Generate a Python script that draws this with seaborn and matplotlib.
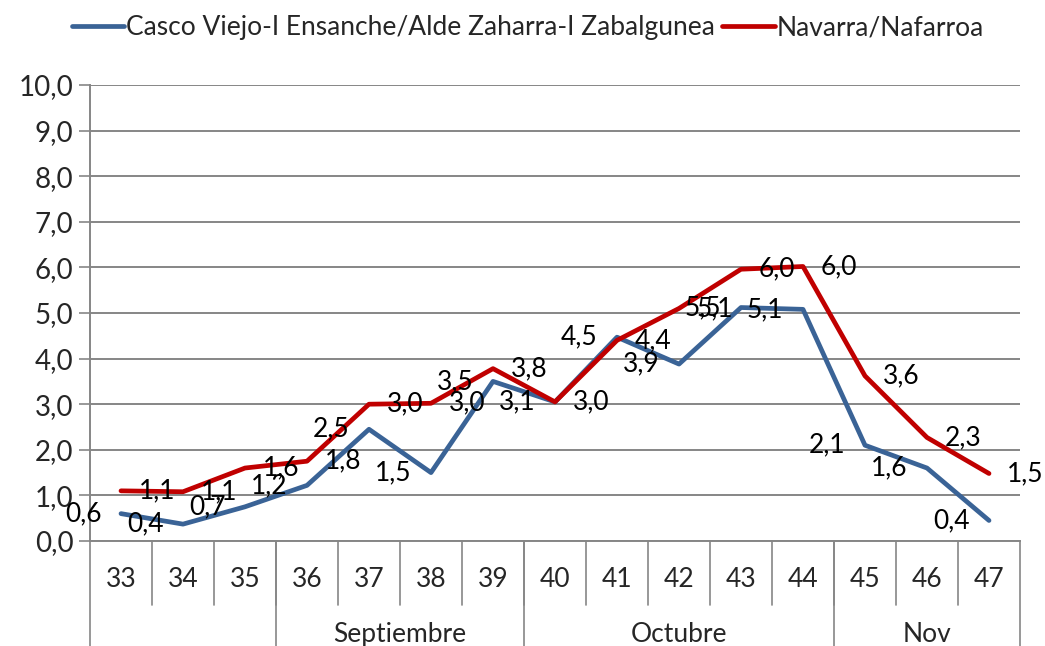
import matplotlib
matplotlib.use("Agg")
import matplotlib.pyplot as plt
import pandas as pd
import seaborn as sns

# Data
weeks = ["33", "34", "35", "36", "37", "38", "39", "40",
         "41", "42", "43", "44", "45", "46", "47"]
months = ["", "Septiembre", "Octubre", "Nov"]
month_sizes = [3, 4, 5, 3]

casco_name = "Casco Viejo-I Ensanche/Alde Zaharra-I Zabalgunea"
navarra_name = "Navarra/Nafarroa"
casco = [0.6, 0.37, 0.75, 1.22, 2.45, 1.5, 3.5, 3.05,
         4.47, 3.88, 5.12, 5.08, 2.1, 1.6, 0.45]
navarra = [1.1, 1.08, 1.6, 1.75, 3.0, 3.02, 3.78, 3.05,
           4.4, 5.1, 5.96, 6.02, 3.62, 2.27, 1.48]
casco_labels = ["0,6", "0,4", "0,7", "1,2", "2,5", "1,5", "3,5", "3,1",
                "4,5", "3,9", "5,5", "5,1", "2,1", "1,6", "0,4"]
navarra_labels = ["1,1", "1,1", "1,6", "1,8", "3,0", "3,0", "3,8", "3,0",
                  "4,4", "5,1", "6,0", "6,0", "3,6", "2,3", "1,5"]

BLUE = "#3A6396"
RED = "#C00000"
GRID = "#868686"
FONT = 19


def main() -> None:
    """Build the chart and save it"""
    sns.set_theme(style="white")
    plt.rcParams["font.family"] = ["Lato", "DejaVu Sans"]

    idx = list(range(len(weeks)))
    df = pd.DataFrame({
        "x": idx + idx,
        "value": casco + navarra,
        "serie": [casco_name] * len(weeks) + [navarra_name] * len(weeks),
    })

    fig = plt.figure(figsize=(10.45, 6.46), dpi=100)
    ax = fig.add_axes([90 / 1045, 1 - 541 / 646, 930 / 1045, 456 / 646])

    sns.lineplot(data=df, x="x", y="value", hue="serie",
                 palette={casco_name: BLUE, navarra_name: RED},
                 linewidth=3.4, ax=ax, legend=True, zorder=3)

    # Data labels: Casco to the left of its points, Navarra to the right
    for i, (v, t) in enumerate(zip(casco, casco_labels)):
        ax.annotate(t, (i, v), xytext=(-14, 0), textcoords="offset points",
                    ha="right", va="center", fontsize=FONT, color="black",
                    zorder=5)
    for i, (v, t) in enumerate(zip(navarra, navarra_labels)):
        ax.annotate(t, (i, v), xytext=(13, 0), textcoords="offset points",
                    ha="left", va="center", fontsize=FONT, color="black",
                    zorder=5, annotation_clip=False)

    # Axes styling
    ax.set_xlim(-0.5, len(weeks) - 0.5)
    ax.set_ylim(0, 10)
    ax.set_yticks(range(11))
    ax.set_yticklabels([f"{v},0" for v in range(11)], fontsize=FONT + 1)
    ax.yaxis.grid(True, color=GRID, linewidth=1.4)
    ax.tick_params(axis="y", which="major", left=True, length=8,
                   color=GRID, width=1.2, pad=4)
    ax.set_xticks([])
    ax.set_xlabel("")
    ax.set_ylabel("")
    for side in ["top", "right"]:
        ax.spines[side].set_visible(False)
    for side in ["left", "bottom"]:
        ax.spines[side].set_color(GRID)
        ax.spines[side].set_linewidth(1.4)

    # Two-level category axis drawn below the plot
    trans = ax.get_xaxis_transform()
    for i, w in enumerate(weeks):
        ax.text(i, -0.085, w, transform=trans, ha="center", va="center",
                fontsize=FONT)
    for b in range(1, len(weeks)):
        ax.plot([b - 0.5, b - 0.5], [0, -0.14], transform=trans,
                color=GRID, linewidth=1.2, clip_on=False)
    start = 0
    ax.plot([-0.5, -0.5], [0, -0.24], transform=trans, color=GRID,
            linewidth=1.2, clip_on=False)
    for m, n in zip(months, month_sizes):
        end = start + n
        ax.plot([end - 0.5, end - 0.5], [0, -0.24], transform=trans,
                color=GRID, linewidth=1.2, clip_on=False)
        ax.text((start + end - 1) / 2, -0.205, m, transform=trans,
                ha="center", va="center", fontsize=FONT)
        start = end

    # Legend on top
    handles, labels = ax.get_legend_handles_labels()
    ax.get_legend().remove()
    fig.legend(handles, labels, loc="center", bbox_to_anchor=(0.505, 1 - 28 / 646),
               ncol=2, frameon=False, fontsize=FONT, handlelength=2.0,
               handletextpad=0.05, columnspacing=0.3)

    fig.savefig("out.png", dpi=100)


if __name__ == "__main__":
    main()
